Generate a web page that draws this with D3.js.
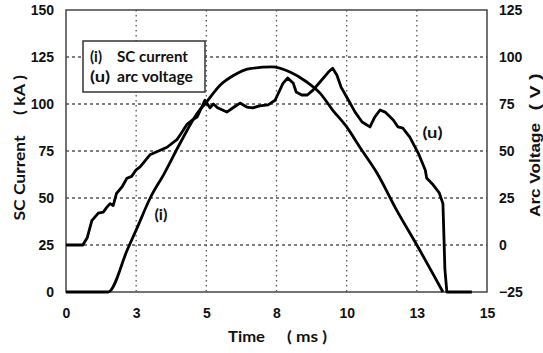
<!DOCTYPE html>
<html>
<head>
<meta charset="utf-8">
<script src="https://cdn.jsdelivr.net/npm/d3@7"></script>
<style>
  body { margin: 0; background: #fff; }
  svg { display: block; }
</style>
</head>
<body>
<svg id="chart"></svg>
<script>
// time (ms) / SC current (kA), left axis
const currentTime = [0, 1.5, 2.2, 2.53, 3.0, 3.5, 4.06, 4.77, 4.95, 5.49, 5.95, 6.55, 7.33, 7.98, 8.58, 9.05, 9.5, 10.0, 10.47, 11.08, 11.8, 12.5, 13.43]
const currentValues = [0, 0, 23, 34, 50, 63, 79, 97, 100, 110, 115, 118.8, 119.7, 117, 111.7, 105.8, 96.8, 87.8, 77, 63.3, 43, 25, 0]

// time (ms) / arc voltage (V), right axis
const voltageTime = [0, 0.6, 0.76, 0.92, 1.15, 1.33, 1.45, 1.57, 1.68, 1.8, 2.0, 2.17, 2.34, 2.5, 2.64, 2.99, 3.6, 3.95, 4.13, 4.3, 4.5, 4.67,
  4.95, 5.13, 5.25, 5.4, 5.73, 5.95, 6.2, 6.44, 6.65, 6.9, 7.2, 7.45, 7.73, 7.9, 8.1, 8.2, 8.4, 8.6, 8.8, 9.05, 9.35, 9.5, 9.65,
  9.8, 10.0, 10.3, 10.55, 10.83, 11.0, 11.19, 11.37, 11.66, 11.83, 12.0, 12.25, 12.55, 12.8, 12.85, 13.08, 13.3, 13.43, 13.5, 13.57, 14.46]
const voltageValues = [0, 0, 4, 13, 17, 17.5, 20, 22, 21, 27.5, 31, 35.5, 36.5, 40, 41.5, 48, 52, 56, 60, 64, 66.5, 68,
  77, 73, 75, 73, 70.7, 73, 75.5, 73.4, 72.9, 74, 74.5, 77, 86, 88.8, 86, 81.4, 79.8, 79.8, 82.4, 86.7, 92, 94, 90.4,
  84, 78.7, 70.7, 65.4, 62.8, 68, 71.8, 70.7, 66.5, 62.8, 62.2, 57.4, 48.9, 39.9, 35.6, 32, 27.7, 22, -13, -25, -25]

const xTicks = [0, 2.5, 5, 7.5, 10, 12.5, 15]
const leftTicks = [0, 25, 50, 75, 100, 125, 150]
const rightTicks = [-25, 0, 25, 50, 75, 100, 125]
const legendItems = [['(i)', 'SC current'], ['(u)', 'arc voltage']]

const width = 543
const height = 353
const margin = { left: 66, right: 56, top: 10, bottom: 61 }

const tickFont = "'Liberation Sans', Arial, sans-serif"
const labelFont = "Lato, 'Open Sans', sans-serif"

const svg = d3.select('#chart')
  .attr('width', width)
  .attr('height', height)

const x = d3.scaleLinear().domain([0, 15]).range([margin.left, width - margin.right])
const yLeft = d3.scaleLinear().domain([0, 150]).range([height - margin.bottom, margin.top])
const yRight = d3.scaleLinear().domain([-25, 125]).range([height - margin.bottom, margin.top])

// squeeze a text to the width seen in the picture (the source font is narrower)
function label(parent, str, opts) {
  const t = parent.append('text')
    .attr('font-family', opts.font || labelFont)
    .attr('font-weight', 'bold')
    .attr('font-size', opts.size || 15)
    .attr('fill', '#111')
    .attr('text-anchor', opts.anchor || 'start')
    .text(str)
  if (opts.transform) t.attr('transform', opts.transform)
  if (opts.x !== undefined) t.attr('x', opts.x)
  if (opts.y !== undefined) t.attr('y', opts.y)
  if (opts.len) t.attr('textLength', opts.len).attr('lengthAdjust', 'spacingAndGlyphs')
  return t
}

function drawGrid() {
  const g = svg.append('g').attr('class', 'grid')
  g.selectAll('.vgrid')
    .data(xTicks.slice(1, -1))
    .join('line')
    .attr('x1', d => x(d))
    .attr('x2', d => x(d))
    .attr('y1', yLeft(150))
    .attr('y2', yLeft(0))
    .attr('stroke', '#555')
    .attr('stroke-width', 1.3)
    .attr('stroke-dasharray', '1.5,3.5')
  g.selectAll('.hgrid')
    .data(leftTicks.slice(1, -1))
    .join('line')
    .attr('x1', x(0))
    .attr('x2', x(15))
    .attr('y1', d => yLeft(d))
    .attr('y2', d => yLeft(d))
    .attr('stroke', '#555')
    .attr('stroke-width', 1.3)
    .attr('stroke-dasharray', '3,3')
}

function drawAxes() {
  const xAxis = d3.axisBottom(x).tickValues(xTicks).tickFormat(d3.format('.0f')).tickSize(0).tickPadding(16)
  const leftAxis = d3.axisLeft(yLeft).tickValues(leftTicks).tickSize(0).tickPadding(12)
  const rightAxis = d3.axisRight(yRight).tickValues(rightTicks).tickSize(0).tickPadding(12)

  const gx = svg.append('g').attr('transform', `translate(0,${yLeft(0)})`).call(xAxis)
  const gl = svg.append('g').attr('transform', `translate(${x(0)},0)`).call(leftAxis)
  const gr = svg.append('g').attr('transform', `translate(${x(15)},0)`).call(rightAxis)

  ;[gx, gl, gr].forEach(g => {
    g.select('.domain').remove()
    g.selectAll('text')
      .attr('font-family', tickFont)
      .attr('font-weight', 'bold')
      .attr('font-size', 14)
      .attr('fill', '#111')
  })

  // frame
  svg.append('rect')
    .attr('x', x(0))
    .attr('y', yLeft(150))
    .attr('width', x(15) - x(0))
    .attr('height', yLeft(0) - yLeft(150))
    .attr('fill', 'none')
    .attr('stroke', '#444')
    .attr('stroke-width', 1.5)
}

function drawTitles() {
  label(svg, 'SC Current', { transform: 'translate(25,178) rotate(-90)', anchor: 'middle', size: 16, len: 85 })
  label(svg, '( kA )', { transform: 'translate(25,95) rotate(-90)', anchor: 'middle', size: 16, len: 40 })

  label(svg, 'Arc Voltage', { transform: 'translate(540,170) rotate(-90)', anchor: 'middle', size: 15, len: 94, font: tickFont })
  label(svg, '( V )', { transform: 'translate(540,92) rotate(-90)', anchor: 'middle', size: 15, len: 37, font: tickFont })

  label(svg, 'Time', { x: 228, y: 342, size: 16, len: 37 })
  label(svg, '( ms )', { x: 287, y: 342, size: 16, len: 40 })
}

function drawLines() {
  const currentLine = d3.line()
    .x((d, i) => x(currentTime[i]))
    .y(d => yLeft(d))
    .curve(d3.curveMonotoneX)
  const voltageLine = d3.line()
    .x((d, i) => x(voltageTime[i]))
    .y(d => yRight(d))

  svg.append('path')
    .attr('d', currentLine(currentValues))
    .attr('fill', 'none')
    .attr('stroke', '#000')
    .attr('stroke-width', 2.8)
    .attr('stroke-linejoin', 'round')

  svg.append('path')
    .attr('d', voltageLine(voltageValues))
    .attr('fill', 'none')
    .attr('stroke', '#000')
    .attr('stroke-width', 2.8)
    .attr('stroke-linejoin', 'round')

  // curve labels
  label(svg, '(i)', { x: x(3.15), y: yLeft(38.5), size: 16, len: 13 })
  label(svg, '(u)', { x: x(12.7), y: yRight(57), size: 16, len: 20 })
}

function drawLegend() {
  const g = svg.append('g').attr('class', 'legend')
  g.append('rect')
    .attr('x', 83)
    .attr('y', 41)
    .attr('width', 122)
    .attr('height', 51)
    .attr('fill', '#fff')
    .attr('stroke', '#333')
    .attr('stroke-width', 1.5)

  const widths = [[12, 71], [20, 76]]
  legendItems.forEach((d, i) => {
    label(g, d[0], { x: 90, y: 62 + i * 20, size: 15, len: widths[i][0] })
    label(g, d[1], { x: 117, y: 62 + i * 20, size: 15, len: widths[i][1] })
  })
}

drawGrid()
drawAxes()
drawLegend()
drawLines()
drawTitles()
</script>
</body>
</html>
